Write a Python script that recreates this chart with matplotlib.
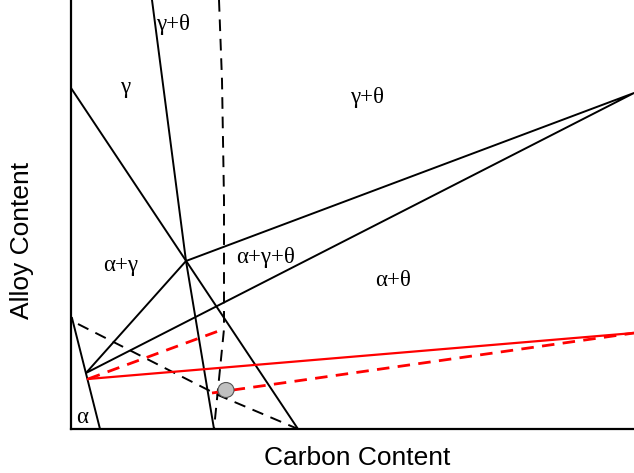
import matplotlib.pyplot as plt
from matplotlib.patches import Ellipse

# schematic isothermal section, coordinates in arbitrary carbon / alloy units
alpha_x = [1, 29]
alpha_y = [111, 0]

gamma_x = [0, 227]
gamma_y = [341, 0]

theta_x = [81, 115, 143]
theta_y = [429, 168, 0]

tri_x = [115, 563, 15, 115]
tri_y = [168, 336, 56, 168]

tie_x = [17, 563]
tie_y = [50, 96]

red_dash1_x = [17, 153]
red_dash1_y = [50, 100]
red_dash2_x = [141, 563]
red_dash2_y = [36, 96]

bdash_v_x = [148, 151, 153, 153, 143]
bdash_v_y = [429, 349, 229, 100, 0]
bdash_d_x = [7, 147, 227]
bdash_d_y = [105, 34, 0]

alloy_pt = (155, 39)

labels = ['γ', 'γ+θ', 'γ+θ', 'α+γ', 'α+γ+θ', 'α+θ', 'α']
label_x = [54, 102, 296, 50, 195, 322, 11]
label_y = [342, 404, 331, 164, 172, 148, 12]

fig = plt.figure(figsize=(6.34, 4.73), dpi=100)
ax = fig.add_axes([71/634, 44/473, 563/634, 429/473])

lw = 1.4
ax.plot(alpha_x, alpha_y, color='black', lw=lw)
ax.plot(gamma_x, gamma_y, color='black', lw=lw)
ax.plot(theta_x, theta_y, color='black', lw=lw)
ax.plot(tri_x, tri_y, color='black', lw=lw)
ax.plot(bdash_v_x, bdash_v_y, color='black', lw=lw, ls=(0, (6, 4)))
ax.plot(bdash_d_x, bdash_d_y, color='black', lw=lw, ls=(0, (6, 4)))

ax.plot(tie_x, tie_y, color='red', lw=1.6)
ax.plot(red_dash1_x, red_dash1_y, color='red', lw=2, ls=(0, (4.5, 3)))
ax.plot(red_dash2_x, red_dash2_y, color='red', lw=2, ls=(0, (4.5, 3)))

ax.add_patch(Ellipse(alloy_pt, 16, 15, facecolor='#c0c0c0', edgecolor='#555555', lw=0.8, zorder=5))

for t, x, y in zip(labels, label_x, label_y):
    ax.text(x, y, t, ha='center', va='center', fontsize=16.5, family=['Liberation Serif', 'DejaVu Serif'])

ax.set_xlim(0, 563)
ax.set_ylim(0, 429)
ax.spines['top'].set_visible(False)
ax.spines['right'].set_visible(False)
ax.spines['left'].set_linewidth(1.6)
ax.spines['bottom'].set_linewidth(1.6)
ax.set_xticks([])
ax.set_yticks([])

fig.text(357/634, 1 - 458/473, 'Carbon Content', ha='center', va='center', fontsize=19, family='Liberation Sans')
fig.text(22/634, 1 - 240/473, 'Alloy Content', ha='center', va='center', rotation=90, fontsize=19, family='Liberation Sans')

plt.savefig('out.png')
